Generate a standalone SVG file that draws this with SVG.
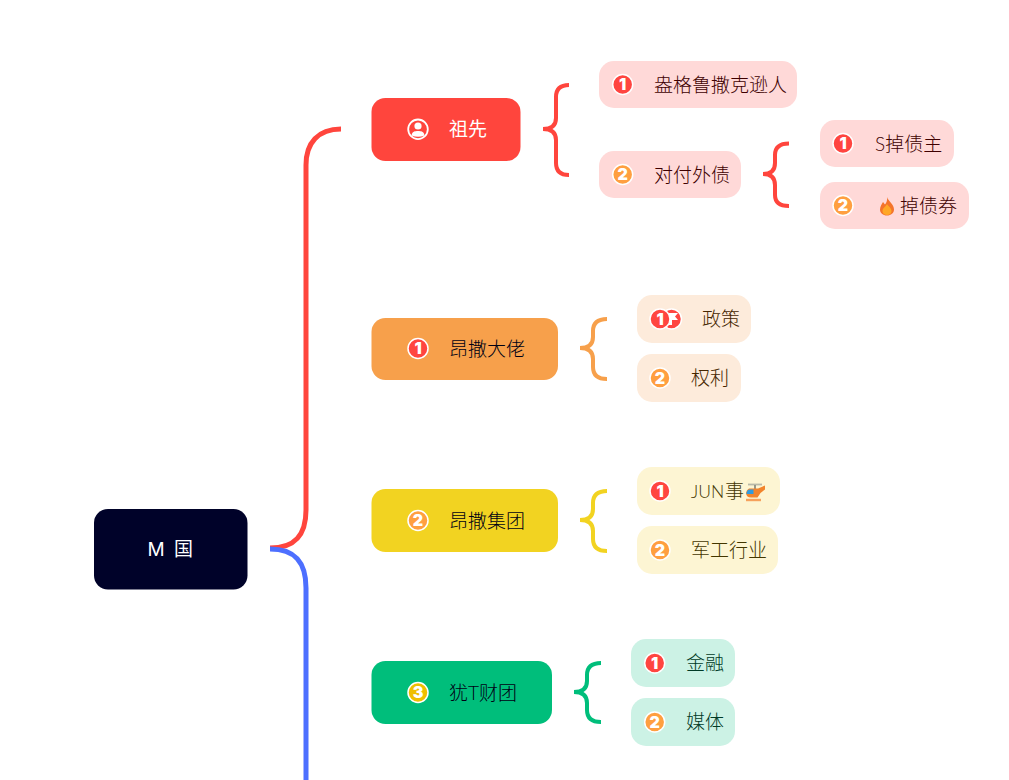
<svg xmlns="http://www.w3.org/2000/svg" width="1009" height="780" viewBox="0 0 1009 780">
<style>
text{font-family:"Lato","Noto Sans CJK SC",sans-serif;font-size:19px;font-weight:300}
.d{font-family:"Inter","Liberation Sans",sans-serif;font-size:16px;font-weight:900;fill:#fff;text-anchor:middle}
.c{fill:none;stroke-width:4;stroke-linecap:butt}
.b{fill:none;stroke-width:5}
.ring{stroke:#fff;stroke-width:1.500}
.r{fill:#FF4540}.o{fill:#FF9F40}
.pr{fill:#FFD9D8}.po{fill:#FDEBDB}.py{fill:#FDF5D3}.pg{fill:#CCF2E5}
.tr{fill:#3E0000}.to{fill:#452600}.ty{fill:#433600}.tg{fill:#003A26}
.k{fill:#000014}
.strong{font-weight:400}
</style>
<rect width="1009" height="780" fill="#fff"/>
<g id="connectors">
<path class="b" stroke="#FF453D" d="M270 548C295 548 306 535 306 510V165C306 143 318 129 341 129"/>
<path class="b" stroke="#4D6FFF" d="M270 549C295 549 306 562 306 588V780"/>
<path class="c" stroke="#FF453D" d="M569 85Q556 85 556 97V118Q556 129 543 129Q556 129 556 140V163Q556 175 569 175"/>
<path class="c" stroke="#FF453D" d="M789 143.500Q775 143.500 775 155V163Q775 174 763 174Q775 174 775 185V195Q775 206 789 206"/>
<path class="c" stroke="#F7A04B" d="M607 319Q593 319 593 331V337Q593 348 580 348Q593 348 593 359V367Q593 379 607 379"/>
<path class="c" stroke="#F2D321" d="M607 491Q593 491 593 503V509Q593 520 580 520Q593 520 593 531V539Q593 551 607 551"/>
<path class="c" stroke="#00BE7B" d="M601 663Q587 663 587 675V681Q587 692 574 692Q587 692 587 703V710Q587 722 601 722"/>
</g>
<g id="root"><rect x="94" y="509" width="153.500" height="80.500" rx="14" fill="#000229"/><text x="147.500" y="555.500" fill="#fff" class="strong" style="font-family:'Inter','Liberation Sans',sans-serif">M</text><text x="174" y="555.500" fill="#fff" class="strong">国</text></g>

<g id="n-ancestor"><rect x="371.500" y="98" width="149" height="63" rx="14" fill="#FF453D"/>
<circle cx="418" cy="129.300" r="9.800" fill="none" stroke="#fff" stroke-width="1.800"/><circle cx="418" cy="126" r="3.600" fill="#fff"/><path d="M411.500 135.500C412 131.500 415 131 418 131S424 131.500 424.500 135.500Q418 138 411.500 135.500Z" fill="#fff"/>
<text x="449" y="136" fill="#fff" class="strong">祖先</text></g>
<g id="n-anglo"><rect x="599" y="61" width="198" height="47" rx="15" class="pr"/><circle cx="622.700" cy="84.500" r="10" class="r ring"/><text class="d" x="622.700" y="90.300">1</text><text x="654" y="91.500" class="tr">盎格鲁撒克逊人</text></g>
<g id="n-debt"><rect x="599" y="151" width="142" height="47" rx="15" class="pr"/><circle cx="622.700" cy="174.500" r="10" class="o ring"/><text class="d" x="622.700" y="180.300">2</text><text x="654" y="181.500" class="tr">对付外债</text></g>
<g id="n-debtor"><rect x="820" y="120" width="134" height="47" rx="15" class="pr"/><circle cx="843" cy="143.500" r="10" class="r ring"/><text class="d" x="843" y="149.300">1</text><text x="875" y="150.500" class="tr">S掉债主</text></g>
<g id="n-bond"><rect x="820" y="182" width="149" height="47" rx="15" class="pr"/><circle cx="843" cy="205.500" r="10" class="o ring"/><text class="d" x="843" y="211.300">2</text>
<path d="M887 197C888 201 894 204 894 209.500C894 213 891 215.500 887 215.500S880 213 880 209.500C880 206 882 204 883 202C884 203 884.500 204 885 204.500C886.500 202.500 887.500 200 887 197Z" fill="#F4742B"/><path d="M887 204C888.500 206.500 891.500 208 891.500 211C891.500 213.500 889.500 215 887 215S882.500 213.500 882.500 211C882.500 208 885.500 207 887 204Z" fill="#FFA726"/>
<text x="900" y="212.500" class="tr">掉债券</text></g>

<g id="n-wasp"><rect x="371.500" y="318" width="186.500" height="62" rx="14" fill="#F7A04B"/><circle cx="418" cy="348.500" r="10" class="r ring"/><text class="d" x="418" y="354.300">1</text><text x="449" y="355.500" class="k">昂撒大佬</text></g>
<g id="n-policy"><rect x="637" y="295" width="114" height="48" rx="15" class="po"/><circle cx="671.500" cy="319" r="10" class="r ring"/><path d="M669 313H678L675 316.500L678 320H672V325H669Z" fill="#fff"/><circle cx="660" cy="319" r="10" class="r ring"/><text class="d" x="660" y="324.800">1</text><text x="702" y="326" class="to">政策</text></g>
<g id="n-rights"><rect x="637" y="354" width="104" height="48" rx="15" class="po"/><circle cx="660" cy="378" r="10" class="o ring"/><text class="d" x="660" y="383.800">2</text><text x="691" y="385" class="to">权利</text></g>

<g id="n-group"><rect x="371.500" y="489" width="186.500" height="63" rx="14" fill="#F2D321"/><circle cx="418" cy="520.500" r="10" class="o ring"/><text class="d" x="418" y="526.300">2</text><text x="449" y="527.500" class="k">昂撒集团</text></g>
<g id="n-military"><rect x="637" y="467" width="143" height="48" rx="15" class="py"/><circle cx="660" cy="491" r="10" class="r ring"/><text class="d" x="660" y="496.800">1</text><text x="691" y="498" class="ty" style="font-size:17.500px">JUN</text><text x="725" y="498" class="ty">事</text>
<path d="M748 484.500H762" stroke="#B9B9A8" stroke-width="1.800"/><path d="M755 485V489" stroke="#8E8E80" stroke-width="1.800"/><path d="M749 488.500H758L765 485.500V489.500L760.500 493L757.500 497.500H751Q746.500 497.500 746 493Q746.500 489.500 749 488.500Z" fill="#F2842C"/><path d="M746.500 494Q746.500 489.500 750 489.500H753.500V494Z" fill="#2E9BE0"/><rect x="746" y="498.800" width="15" height="2.400" fill="#F6A15C"/></g>
<g id="n-industry"><rect x="637" y="526" width="141" height="48" rx="15" class="py"/><circle cx="660" cy="550" r="10" class="o ring"/><text class="d" x="660" y="555.800">2</text><text x="691" y="557" class="ty">军工行业</text></g>

<g id="n-jew"><rect x="371.500" y="661" width="180.500" height="63" rx="14" fill="#00BE7B"/><circle cx="418" cy="692.500" r="10" fill="#EFBF00" class="ring"/><text class="d" x="418" y="698.300">3</text><text x="449" y="699.500" class="k">犹T财团</text></g>
<g id="n-finance"><rect x="631" y="639" width="104" height="48" rx="15" class="pg"/><circle cx="654.700" cy="663" r="10" class="r ring"/><text class="d" x="654.700" y="668.800">1</text><text x="686" y="670" class="tg">金融</text></g>
<g id="n-media"><rect x="631" y="698" width="104" height="48" rx="15" class="pg"/><circle cx="654.700" cy="722" r="10" class="o ring"/><text class="d" x="654.700" y="727.800">2</text><text x="686" y="729" class="tg">媒体</text></g>
</svg>
